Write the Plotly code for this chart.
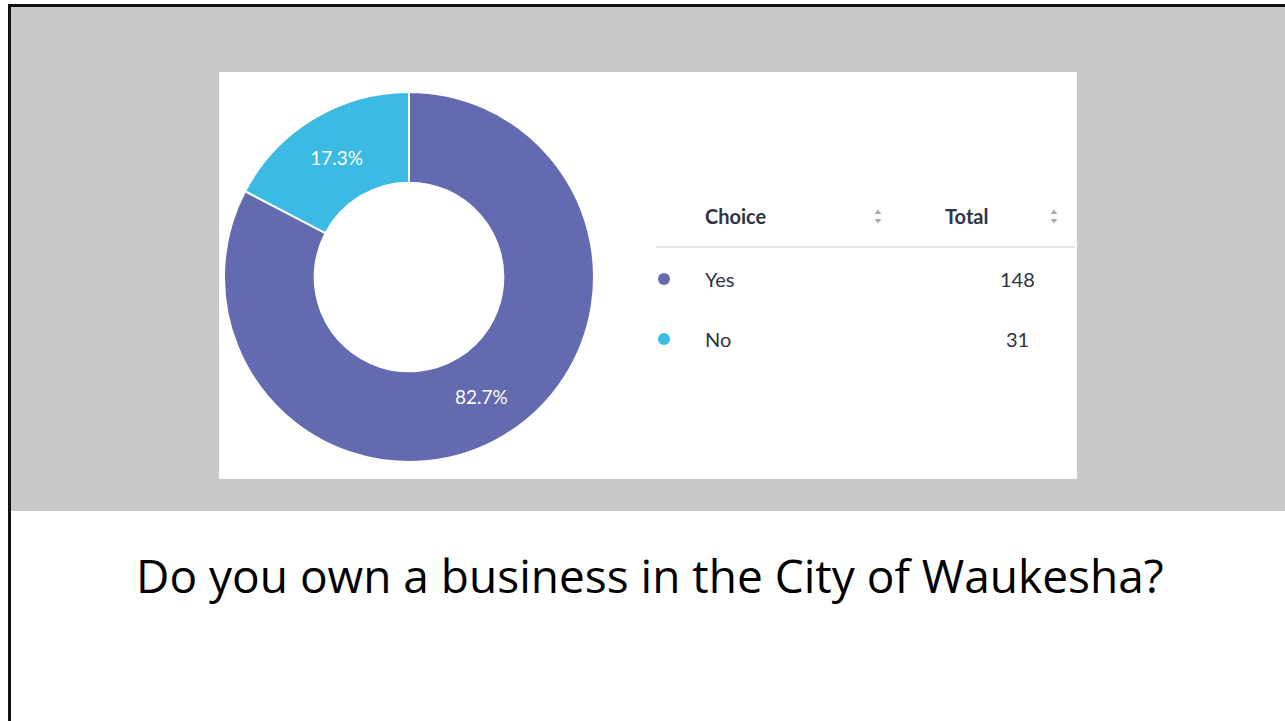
import plotly.graph_objects as go

# ---- data ----
choices = ["Yes", "No"]
totals = [148, 31]
colors = ["#646aaf", "#3bbae3"]
headers = ["Choice", "Total"]
title_text = "Do you own a business in the City of Waukesha?"

W, H = 1285, 721
fig = go.Figure()

# donut
cx, cy, r = 409, 277, 185
fig.add_trace(go.Pie(
    labels=choices, values=totals, sort=False, direction="clockwise", rotation=0,
    hole=0.51,
    marker=dict(colors=colors, line=dict(color="white", width=2)),
    texttemplate="%{percent:.1%}", textposition="inside", insidetextorientation="horizontal",
    textfont=dict(family="Lato", size=19, color="white"),
    domain=dict(x=[(cx - r) / W, (cx + r) / W],
                y=[(H - cy - r) / H, (H - cy + r) / H]),
    showlegend=False, hoverinfo="skip",
))

# table: legend dots
row_y = [279, 339]
fig.add_trace(go.Scatter(
    x=[664] * len(choices), y=row_y, mode="markers",
    marker=dict(size=12, color=colors, line=dict(width=0)),
    showlegend=False, hoverinfo="skip", cliponaxis=False,
))
# sort icons
icon_x = [878, 1054]
fig.add_trace(go.Scatter(
    x=icon_x, y=[212.5] * 2, mode="markers",
    marker=dict(symbol="triangle-up", size=6, color="#a7abb8"),
    showlegend=False, hoverinfo="skip"))
fig.add_trace(go.Scatter(
    x=icon_x, y=[220.5] * 2, mode="markers",
    marker=dict(symbol="triangle-down", size=6, color="#a7abb8"),
    showlegend=False, hoverinfo="skip"))

shapes = [
    dict(type="rect", x0=11, x1=1290, y0=7, y1=511, fillcolor="#c8c9c8", line=dict(width=0), layer="below"),
    dict(type="rect", x0=219, x1=1077, y0=72, y1=479, fillcolor="white", line=dict(width=0), layer="below"),
    dict(type="line", x0=9, x1=1290, y0=5.5, y1=5.5, line=dict(color="#111111", width=3)),
    dict(type="line", x0=9.5, x1=9.5, y0=4, y1=725, line=dict(color="#111111", width=3)),
    dict(type="line", x0=656, x1=1075, y0=247, y1=247, line=dict(color="#e4e5e8", width=2)),
]

ann = []
tc = "#2f3441"
ann.append(dict(x=703, y=216, text="<b>" + headers[0] + "</b>", xanchor="left", yanchor="middle",
                showarrow=False, font=dict(family="Lato", size=20, color=tc)))
ann.append(dict(x=966, y=216, text="<b>" + headers[1] + "</b>", xanchor="center", yanchor="middle",
                showarrow=False, font=dict(family="Lato", size=20, color=tc)))
for c, t, yy in zip(choices, totals, row_y):
    ann.append(dict(x=703, y=yy, text=c, xanchor="left", yanchor="middle", showarrow=False,
                    font=dict(family="Lato", size=20, color=tc)))
    ann.append(dict(x=1017, y=yy, text=str(t), xanchor="center", yanchor="middle", showarrow=False,
                    font=dict(family="Lato", size=20, color=tc)))
ann.append(dict(x=650, y=575, text=title_text, xanchor="center", yanchor="middle", showarrow=False,
                font=dict(family="Open Sans", size=46, color="black")))

fig.update_layout(
    width=W, height=H, margin=dict(l=0, r=0, t=0, b=0),
    paper_bgcolor="white", plot_bgcolor="rgba(0,0,0,0)",
    xaxis=dict(range=[0, W], visible=False, fixedrange=True),
    yaxis=dict(range=[H, 0], visible=False, fixedrange=True),
    shapes=shapes, annotations=ann,
)
fig.write_html("out.html", config={"displayModeBar": False},
               post_script="document.body.style.margin='0';document.body.style.overflow='hidden';")
